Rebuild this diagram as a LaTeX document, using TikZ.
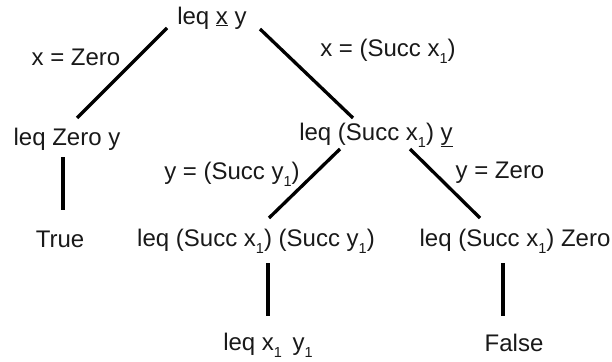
\documentclass[tikz,border=0pt]{standalone}
\usepackage{fontspec}
\setmainfont{Liberation Sans}
\newcommand{\subn}[1]{\raisebox{-0.3em}{\fontsize{14.5}{15}\selectfont #1}}
\begin{document}
\begin{tikzpicture}[x=1pt,y=-1pt,
  lbl/.style={inner sep=0pt,anchor=center,font=\fontsize{24}{26}\selectfont,text=black!90},
  edge/.style={line width=3.3pt,black}]
\useasboundingbox (0,0) rectangle (612,361);
% nodes
\node[lbl] (root) at (212,18) {leq \underline{x} y};
\node[lbl] (lz) at (67,139) {leq Zero y};
\node[lbl] (tr) at (60,239) {True};
\node[lbl] (ls) at (376,135) {leq (Succ x\subn{1}) \underline{y}};
\node[lbl] (lss) at (256,241) {leq (Succ x\subn{1}) (Succ y\subn{1})};
\node[lbl] (lsz) at (515,241) {leq (Succ x\subn{1}) Zero};
\node[lbl] (lxy) at (268,345) {leq x\subn{1}\, y\subn{1}};
\node[lbl] (fa) at (514,343) {False};
% edge labels
\node[lbl] (l1) at (76,57) {x = Zero};
\node[lbl] (l2) at (388,51) {x = (Succ x\subn{1})};
\node[lbl] (l3) at (232,174) {y = (Succ y\subn{1})};
\node[lbl] (l4) at (500,173) {y = Zero};
% connector ends
\coordinate (a1) at (167,28);  \coordinate (b1) at (77,118);
\coordinate (a2) at (260,29);  \coordinate (b2) at (353,118);
\coordinate (a3) at (63,157);  \coordinate (b3) at (63,210);
\coordinate (a4) at (340,149); \coordinate (b4) at (269,218);
\coordinate (a5) at (410,149); \coordinate (b5) at (480,218);
\coordinate (a6) at (268,263); \coordinate (b6) at (268,316);
\coordinate (a7) at (503,263); \coordinate (b7) at (503,316);
\foreach \i in {1,...,7}{\draw[edge] (a\i) -- (b\i);}
\end{tikzpicture}
\end{document}
